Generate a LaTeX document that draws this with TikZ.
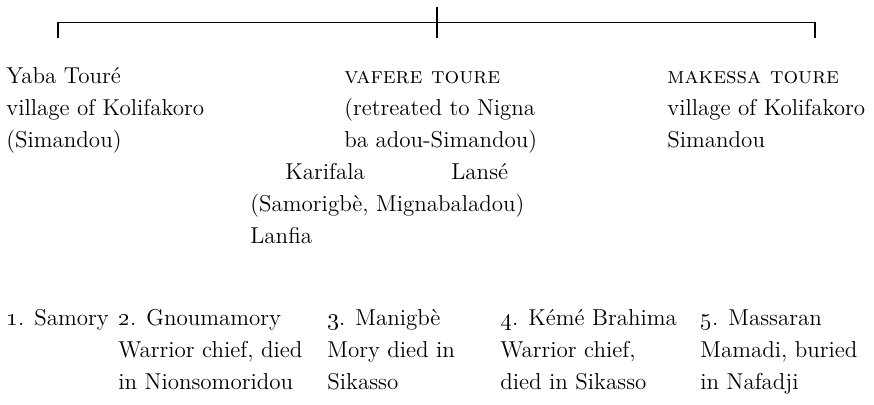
\documentclass[tikz,border=0pt]{standalone}
\usepackage{tikz}
\tikzset{
    entry/.style={anchor=base west, inner sep=0pt, align=left, font=\fontsize{11.5}{16}\selectfont},
    bracket/.style={draw, line width=0.6pt},
}
\newcommand{\Rank}[1]{\oldstylenums{#1}.}

\begin{document}
\begin{tikzpicture}[x=0.5pt, y=-0.5pt]
    \useasboundingbox (0,0) rectangle (874,404);

    % bracket over the three brothers
    \coordinate (bl) at (58,38);
    \coordinate (cl) at (58,22.5);
    \coordinate (cr) at (815,22.5);
    \coordinate (br) at (815,38);
    \coordinate (bt) at (437,7);
    \coordinate (bb) at (437,38);
    \draw[bracket] (bl) -- (cl) -- (cr) -- (br);
    \draw[bracket] (bt) -- (bb);

    % nodes sit on the baseline of their last line
    \node[entry] (yaba) at (6,147) {Yaba Touré\\village of Kolifakoro\\(Simandou)};
    \node[entry] (vafere) at (344,147) {\textsc{vafere toure}\\(retreated to Nigna\\ba adou-Simandou)};
    \node[entry] (makessa) at (667,147) {\textsc{makessa toure}\\village of Kolifakoro\\Simandou};

    \node[entry] (karifala) at (285,179) {Karifala};
    \node[entry] (lanse) at (451,179) {Lansé};
    \node[entry] (lanfia) at (250,243) {(Samorigbè, Mignabaladou)\\Lanfia};

    \node[entry] (son1) at (6,325) {\Rank{1} Samory};
    \node[entry] (son2) at (118,389) {\Rank{2} Gnoumamory\\Warrior chief, died\\in Nionsomoridou};
    \node[entry] (son3) at (327,389) {\Rank{3} Manigbè\\Mory died in\\Sikasso};
    \node[entry] (son4) at (500,389) {\Rank{4} Kémé Brahima\\Warrior chief,\\died in Sikasso};
    \node[entry] (son5) at (700,389) {\Rank{5} Massaran\\Mamadi, buried\\in Nafadji};
\end{tikzpicture}
\end{document}
